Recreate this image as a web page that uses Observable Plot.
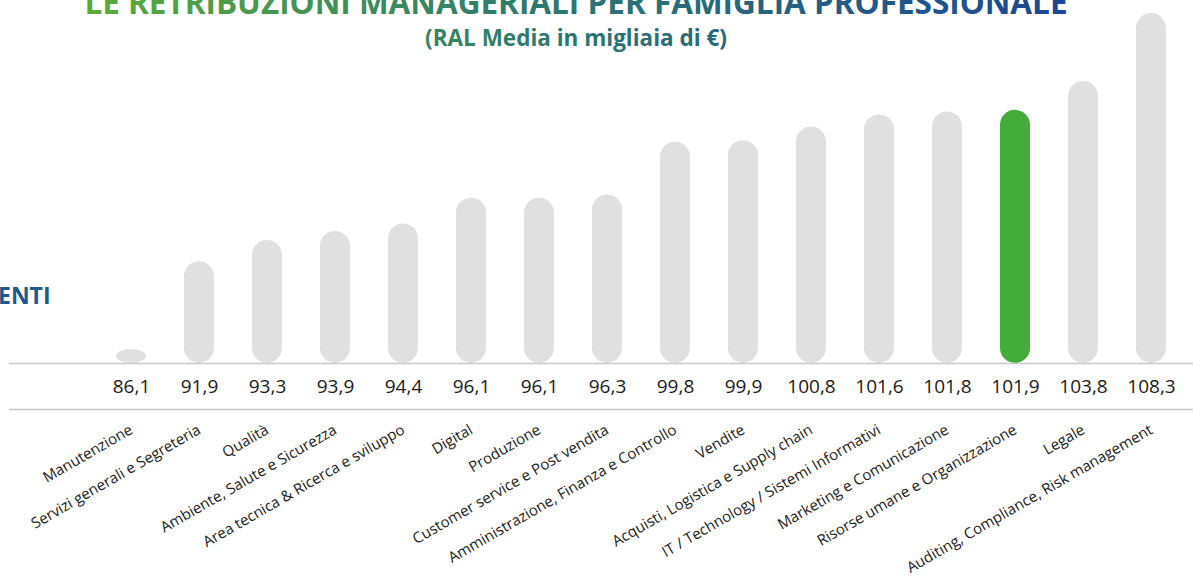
<!DOCTYPE html>
<html><head><meta charset="utf-8">
<script src="https://cdn.jsdelivr.net/npm/d3@7"></script>
<script src="https://cdn.jsdelivr.net/npm/@observablehq/plot@0.6"></script>
<style>
body{margin:0;background:#fff;font-family:"Open Sans",sans-serif;}
#wrap{position:relative;width:1193px;height:576px;overflow:hidden;}
#overlay{position:absolute;left:0;top:0;pointer-events:none;}
#side{position:absolute;left:-2px;top:284px;font:700 23px/23px "Open Sans",sans-serif;color:#1f5a8a;white-space:nowrap;}
</style></head><body>
<div id="wrap"><div id="chart"></div>
<svg id="overlay" width="1193" height="60" xmlns="http://www.w3.org/2000/svg">
<defs><linearGradient id="tg" gradientUnits="userSpaceOnUse" x1="88" y1="0" x2="1065" y2="0">
<stop offset="0" stop-color="#5aaa3a"/><stop offset="0.45" stop-color="#2e7a6e"/><stop offset="1" stop-color="#1c4694"/>
</linearGradient></defs>
<text id="t1" x="576" y="14" text-anchor="middle" font-family="Open Sans" font-weight="700" font-size="31.5" fill="url(#tg)"></text>
<text id="t2" x="576" y="46" text-anchor="middle" font-family="Open Sans" font-weight="700" font-size="22.5" fill="url(#tg)"></text>
</svg>
<div id="side"></div></div>
<script>
const title = "LE RETRIBUZIONI MANAGERIALI PER FAMIGLIA PROFESSIONALE";
const subtitle = "(RAL Media in migliaia di €)";
const sideLabel = "ENTI";
const categories = [
  "Manutenzione",
  "Servizi generali e Segreteria",
  "Qualità",
  "Ambiente, Salute e Sicurezza",
  "Area tecnica & Ricerca e sviluppo",
  "Digital",
  "Produzione",
  "Customer service e Post vendita",
  "Amministrazione, Finanza e Controllo",
  "Vendite",
  "Acquisti, Logistica e Supply chain",
  "IT / Technology / Sistemi Informativi",
  "Marketing e Comunicazione",
  "Risorse umane e Organizzazione",
  "Legale",
  "Auditing, Compliance, Risk management"
];
const values = [86.1, 91.9, 93.3, 93.9, 94.4, 96.1, 96.1, 96.3, 99.8, 99.9, 100.8, 101.6, 101.8, 101.9, 103.8, 108.3];
const highlight = "Risorse umane e Organizzazione";
const yBase = 85.175;
const yTop = 108.3;

document.getElementById("t1").textContent = title;
document.getElementById("t2").textContent = subtitle;
document.getElementById("side").textContent = sideLabel;

const fmt = v => v.toFixed(1).replace(".", ",");
const data = categories.map((c, i) => ({category: c, value: values[i]}));

const chart = Plot.plot({
  width: 1193, height: 576,
  marginLeft: 9, marginRight: 0, marginTop: 13, marginBottom: 213,
  x: {type: "band", domain: categories, range: [96, 1186], padding: 0, axis: null},
  y: {domain: [yBase, yTop], axis: null},
  color: {type: "identity"},
  style: {fontFamily: "Open Sans", background: "transparent"},
  marks: [
    Plot.barY(data, {x: "category", y1: yBase, y2: "value",
      fill: d => d.category === highlight ? "#43ac3a" : "#e0e0e0",
      insetLeft: 19, insetRight: 19, rx: 15}),
    Plot.ruleY([yBase], {stroke: "#c8c8c8", strokeWidth: 1.5}),
    Plot.ruleY([yBase], {stroke: "#c8c8c8", strokeWidth: 1.5, dy: 46}),
    Plot.text(data, {x: "category", y: yBase, dy: 23, text: d => fmt(d.value),
      fontSize: 19, fill: "#1a1a1a", lineAnchor: "middle"}),
    Plot.text(data, {x: "category", y: yBase, dx: -3, dy: 60, text: "category", rotate: -30,
      textAnchor: "end", lineAnchor: "top", fontSize: 15, fill: "#222"})
  ]
});
document.getElementById("chart").append(chart);
</script>
</body></html>
